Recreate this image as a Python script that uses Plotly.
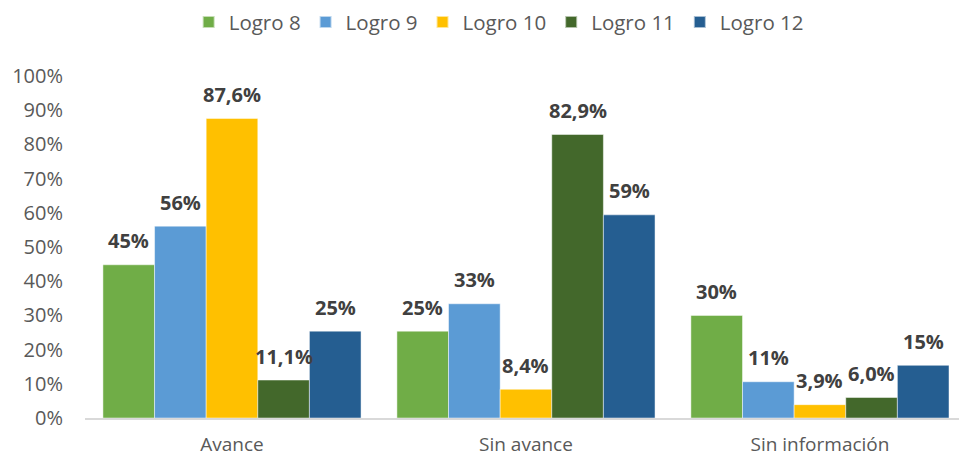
import plotly.graph_objects as go

# Categories and series (percentages)
categories = ["Avance", "Sin avance", "Sin información"]
series_names = ["Logro 8", "Logro 9", "Logro 10", "Logro 11", "Logro 12"]
logro8 = [44.8, 25.4, 30.0]
logro9 = [56.1, 33.4, 10.6]
logro10 = [87.6, 8.4, 3.9]
logro11 = [11.1, 82.9, 6.0]
logro12 = [25.4, 59.4, 15.4]
label_decimals = [0, 0, 1, 1, 0]
y_tick_values = [0, 10, 20, 30, 40, 50, 60, 70, 80, 90, 100]
y_tick_labels = ["0%", "10%", "20%", "30%", "40%", "50%", "60%", "70%", "80%", "90%", "100%"]

colors = ["#70AD47", "#5B9BD5", "#FFC000", "#43682B", "#255E91"]
all_series = [logro8, logro9, logro10, logro11, logro12]

n_series = len(all_series)
group_width = 0.878
bar_w = group_width / n_series

fig = go.Figure()
annotations = []
for i, (name, vals, col, dec) in enumerate(zip(series_names, all_series, colors, label_decimals)):
    offset = (i - (n_series - 1) / 2) * bar_w
    xs = [k + offset for k in range(len(categories))]
    fig.add_trace(go.Bar(
        x=xs, y=vals, width=bar_w, name=name,
        marker=dict(color=col, line=dict(color="rgba(255,255,255,0.6)", width=0.8)),
        hoverinfo="skip",
    ))
    for x, v in zip(xs, vals):
        txt = f"{v:.{dec}f}".replace(".", ",") + "%"
        annotations.append(dict(
            x=x, y=v, xref="x", yref="y", text=f"<b>{txt}</b>",
            showarrow=False, yshift=24, yanchor="middle", xanchor="center",
            font=dict(family="Open Sans", size=20, color="#404040"),
        ))

fig.update_layout(
    width=959, height=458,
    margin=dict(l=85, r=0, t=76, b=40, autoexpand=False),
    paper_bgcolor="white", plot_bgcolor="white",
    barmode="overlay",
    showlegend=True,
    legend=dict(
        orientation="h", xref="container", yref="container",
        x=0.52, xanchor="center", y=0.995, yanchor="top",
        font=dict(family="Open Sans", size=20.5, color="#595959"),
        itemsizing="constant", traceorder="normal",
    ),
    annotations=annotations,
    font=dict(family="Open Sans", color="#595959"),
)
fig.update_xaxes(
    range=[-0.5, 2.473], tickvals=list(range(len(categories))), ticktext=categories,
    showline=True, linecolor="#D9D9D9", linewidth=1.5, ticks="", showgrid=False,
    zeroline=False, ticklabelstandoff=8, automargin=False,
    tickfont=dict(family="Open Sans", size=19, color="#595959"),
)
fig.update_yaxes(
    range=[0, 100], tickvals=y_tick_values, ticktext=y_tick_labels,
    showgrid=False, zeroline=False, showline=False, ticks="",
    ticklabelstandoff=21, automargin=False,
    tickfont=dict(family="Open Sans", size=20, color="#595959"),
)

fig.write_html("out.html")
